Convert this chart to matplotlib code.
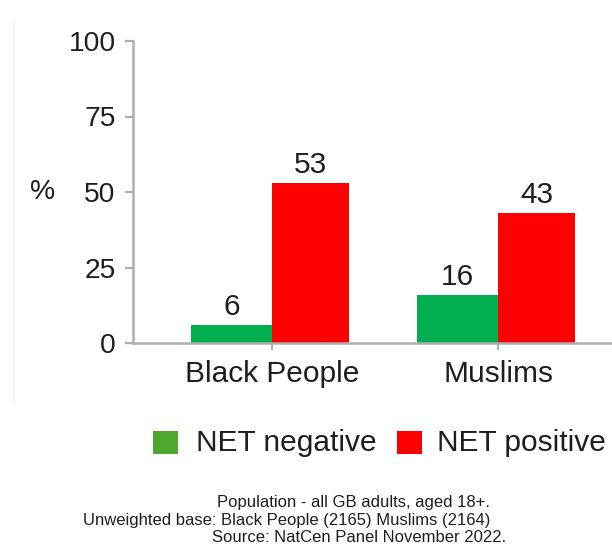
import matplotlib
matplotlib.use("Agg")
import matplotlib.pyplot as plt
from matplotlib.patches import Rectangle
from matplotlib.lines import Line2D

plt.rcParams["font.family"] = ["Liberation Sans", "DejaVu Sans"]

categories = ["Black People", "Muslims"]
net_negative = [6, 16]
net_positive = [53, 43]
series_labels = ["NET negative", "NET positive"]
y_ticks = [0, 25, 50, 75, 100]
footer_lines = [
    "Population - all GB adults, aged 18+.",
    "Unweighted base: Black People (2165) Muslims (2164)",
    "Source: NatCen Panel November 2022.",
]

GREEN = "#00B050"
GREEN_KEY = "#4EA72E"
RED = "#FF0000"
AXIS_GREY = "#AEAEAE"
TEXT = "#1E1E1E"

W, H = 612, 545
fig = plt.figure(figsize=(W / 100, H / 100), dpi=100)

def fx(px):
    return px / W

def fy(py):
    return 1 - py / H

ax = fig.add_axes([fx(133), fy(343), 1 - fx(133), fy(41) - fy(343)])

x = list(range(len(categories)))
ax.bar(x, net_negative, width=-0.36, align="edge", color=GREEN, linewidth=0)
ax.bar(x, net_positive, width=0.34, align="edge", color=RED, linewidth=0)

for xi, v in zip(x, net_negative):
    ax.annotate(str(v), (xi - 0.18, v), xytext=(0, 3), textcoords="offset points",
                ha="center", va="bottom", fontsize=21.5, color=TEXT)
for xi, v in zip(x, net_positive):
    ax.annotate(str(v), (xi + 0.17, v), xytext=(0, 3), textcoords="offset points",
                ha="center", va="bottom", fontsize=21.5, color=TEXT)

ax.set_xlim(-0.615, 1.504)
ax.set_ylim(0, 100)
ax.set_yticks(y_ticks)
ax.set_yticklabels([str(t) for t in y_ticks])
ax.set_xticks(x)
ax.set_xticklabels(categories)

for side in ("top", "right"):
    ax.spines[side].set_visible(False)
for side in ("left", "bottom"):
    ax.spines[side].set_color(AXIS_GREY)
    ax.spines[side].set_linewidth(1.8)

ax.tick_params(axis="y", length=6, width=1.6, color=AXIS_GREY, pad=6.5,
               labelsize=20.3, labelcolor=TEXT)
ax.tick_params(axis="x", length=5, width=1.6, color=AXIS_GREY, pad=7,
               labelsize=21.5, labelcolor=TEXT)

fig.text(fx(43), fy(192), "%", ha="center", va="center", fontsize=20.3, color=TEXT)

# faint frame line on the left edge
fig.add_artist(Line2D([fx(14), fx(14)], [fy(22), fy(400)], color="#F2F2F2",
                      linewidth=1.2, transform=fig.transFigure))

# legend keys and labels
key_specs = [(153, GREEN_KEY), (397, RED)]
label_x = [196, 437]
for (kx, col), lx, lab in zip(key_specs, label_x, series_labels):
    fig.add_artist(Rectangle((fx(kx), fy(454)), fx(25), fy(431) - fy(454),
                             transform=fig.transFigure, facecolor=col, edgecolor="none"))
    fig.text(fx(lx), fy(443), lab, ha="left", va="center", fontsize=21.5, color=TEXT)

footer_x = [217, 83, 212]
footer_y = [502, 520, 537]
for line, lx, ly in zip(footer_lines, footer_x, footer_y):
    fig.text(fx(lx), fy(ly), line, ha="left", va="center", fontsize=12, color=TEXT)

fig.savefig("out.png", dpi=100)
